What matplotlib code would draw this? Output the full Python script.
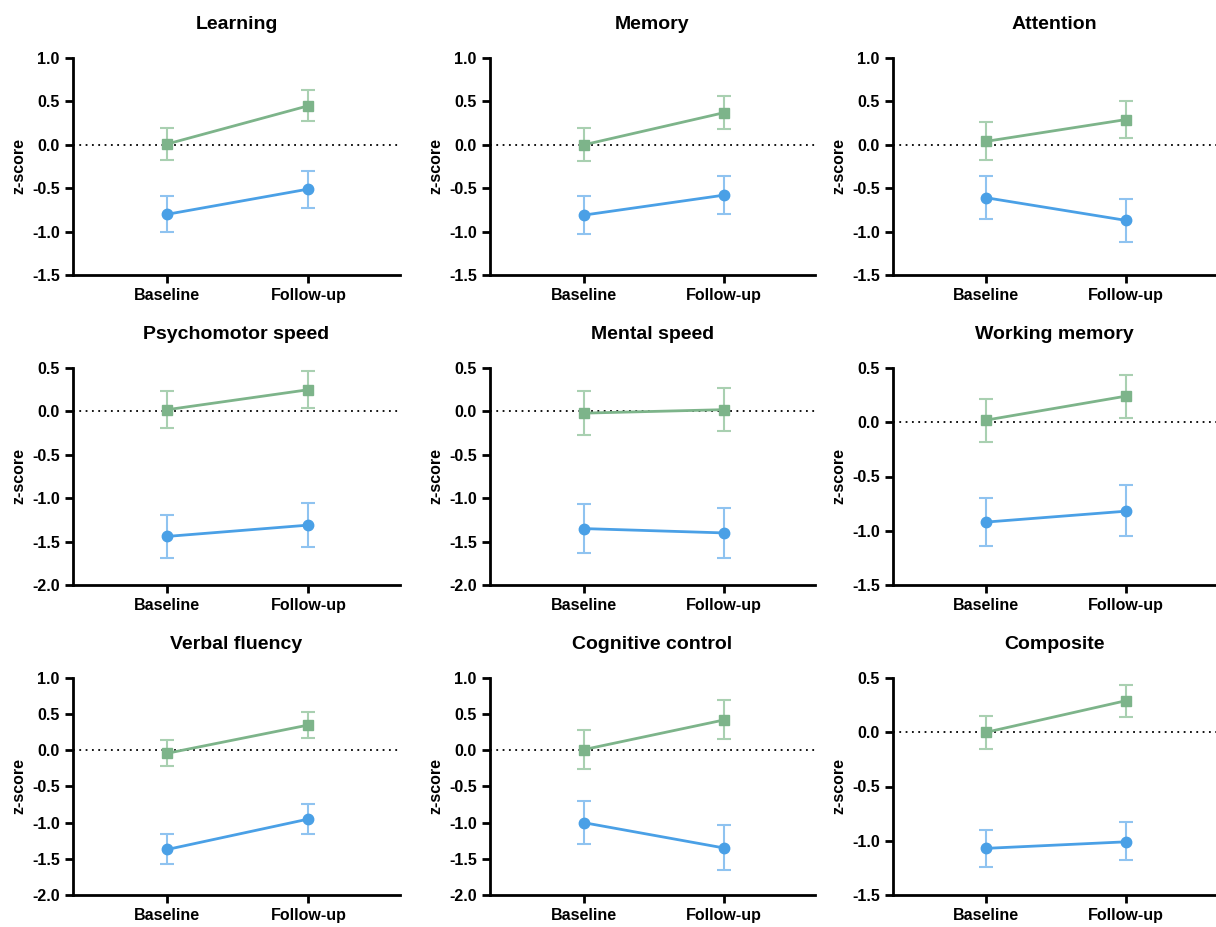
import numpy as np
import matplotlib
matplotlib.use("Agg")
import matplotlib.pyplot as plt

plt.rcParams['font.family'] = ['Liberation Sans', 'DejaVu Sans']
plt.rcParams['font.weight'] = 'bold'

timepoints = ['Baseline', 'Follow-up']
domains = ['Learning', 'Memory', 'Attention',
           'Psychomotor speed', 'Mental speed', 'Working memory',
           'Verbal fluency', 'Cognitive control', 'Composite']

# green group (squares): mean, lower, upper at baseline / follow-up
green_mean = [[0.01, 0.45], [0.00, 0.37], [0.04, 0.29],
              [0.02, 0.25], [-0.02, 0.02], [0.02, 0.24],
              [-0.04, 0.35], [0.01, 0.42], [0.00, 0.29]]
green_lo = [[-0.18, 0.27], [-0.19, 0.18], [-0.18, 0.08],
            [-0.19, 0.04], [-0.27, -0.23], [-0.18, 0.04],
            [-0.22, 0.17], [-0.26, 0.15], [-0.15, 0.14]]
green_hi = [[0.19, 0.63], [0.19, 0.56], [0.26, 0.51],
            [0.24, 0.47], [0.23, 0.27], [0.21, 0.44],
            [0.14, 0.53], [0.28, 0.69], [0.15, 0.44]]

# blue group (circles)
blue_mean = [[-0.80, -0.51], [-0.81, -0.58], [-0.61, -0.87],
             [-1.44, -1.31], [-1.35, -1.40], [-0.92, -0.82],
             [-1.37, -0.95], [-1.00, -1.35], [-1.07, -1.01]]
blue_lo = [[-1.01, -0.73], [-1.03, -0.80], [-0.86, -1.12],
           [-1.69, -1.56], [-1.63, -1.69], [-1.14, -1.05],
           [-1.57, -1.16], [-1.30, -1.66], [-1.24, -1.18]]
blue_hi = [[-0.59, -0.30], [-0.59, -0.36], [-0.36, -0.62],
           [-1.19, -1.05], [-1.07, -1.11], [-0.70, -0.58],
           [-1.16, -0.74], [-0.70, -1.03], [-0.90, -0.83]]

ylims = [(-1.5, 1.0), (-1.5, 1.0), (-1.5, 1.0),
         (-2.0, 0.5), (-2.0, 0.5), (-1.5, 0.5),
         (-2.0, 1.0), (-2.0, 1.0), (-1.5, 0.5)]

green = '#7db48a'
green_light = '#a9d0b1'
blue = '#4aa0e6'
blue_light = '#8fc3f0'

W, H = 1216, 927
fig = plt.figure(figsize=(W / 100, H / 100), dpi=100)

lefts = [73, 490, 893]
rights = [400, 815, 1216]
tops = [58, 368, 678]
bottoms = [275, 585, 895]

x = np.array([0, 1])
for i, name in enumerate(domains):
    r, c = divmod(i, 3)
    ax = fig.add_axes([lefts[c] / W, 1 - bottoms[r] / H,
                       (rights[c] - lefts[c]) / W, (bottoms[r] - tops[r]) / H])
    ax.axhline(0, color='black', linestyle=(0, (1, 2.5)), linewidth=1.3, zorder=1)

    for mean, lo, hi, col, lcol, mk, ms in [
            (blue_mean[i], blue_lo[i], blue_hi[i], blue, blue_light, 'o', 7.5),
            (green_mean[i], green_lo[i], green_hi[i], green, green_light, 's', 7.5)]:
        m = np.array(mean)
        yerr = np.array([m - np.array(lo), np.array(hi) - m])
        ax.errorbar(x, m, yerr=yerr, fmt='none', ecolor=lcol, elinewidth=1.5,
                    capsize=5, capthick=1.5, zorder=2)
        ax.plot(x, m, color=col, linewidth=2, marker=mk, markersize=ms, zorder=3)

    ax.set_xlim(-0.67, 1.65)
    ax.set_ylim(*ylims[i])
    ax.set_yticks(np.arange(ylims[i][0], ylims[i][1] + 0.01, 0.5))
    ax.yaxis.set_major_formatter(matplotlib.ticker.FormatStrFormatter('%.1f'))
    ax.set_xticks(x)
    ax.set_xticklabels(timepoints)
    for s in ['top', 'right']:
        ax.spines[s].set_visible(False)
    for s in ['left', 'bottom']:
        ax.spines[s].set_linewidth(2)
    ax.tick_params(width=2, length=6, labelsize=11.5)
    for lab in ax.get_xticklabels() + ax.get_yticklabels():
        lab.set_fontweight('bold')
    ax.set_ylabel('z-score', fontsize=11.5, fontweight='bold')
    ax.set_title(name, fontsize=14, fontweight='bold', pad=21)

fig.savefig('out.png', dpi=100)
